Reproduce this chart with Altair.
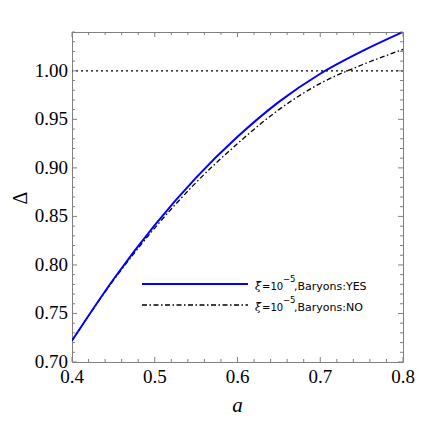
import altair as alt
import pandas as pd

# ---- data ----
a_vals = [0.40, 0.45, 0.50, 0.55, 0.60, 0.65, 0.70, 0.75, 0.80]
delta_yes = [0.722, 0.785, 0.841, 0.890, 0.932, 0.968, 0.997, 1.020, 1.040]
delta_no = [0.722, 0.784, 0.838, 0.885, 0.925, 0.960, 0.987, 1.006, 1.022]
xi_text = "ξ̃"
eq_text = "=10"
sup_text = "−5"
yes_text = ",Baryons:YES"
no_text = ",Baryons:NO"
ref_level = [1.00]
x_title = "a"
y_title = "Δ"

x_major = [0.4, 0.5, 0.6, 0.7, 0.8]
x_labels = ["0.4", "0.5", "0.6", "0.7", "0.8"]
x_minor = [0.42, 0.44, 0.46, 0.48, 0.52, 0.54, 0.56, 0.58,
           0.62, 0.64, 0.66, 0.68, 0.72, 0.74, 0.76, 0.78]
y_major = [0.70, 0.75, 0.80, 0.85, 0.90, 0.95, 1.00]
y_labels = ["0.70", "0.75", "0.80", "0.85", "0.90", "0.95", "1.00"]
y_minor = [0.71, 0.72, 0.73, 0.74, 0.76, 0.77, 0.78, 0.79,
           0.81, 0.82, 0.83, 0.84, 0.86, 0.87, 0.88, 0.89,
           0.91, 0.92, 0.93, 0.94, 0.96, 0.97, 0.98, 0.99,
           1.01, 1.02, 1.03, 1.04]

df = pd.DataFrame({
    "a": a_vals + a_vals,
    "delta": delta_yes + delta_no,
    "series": ["yes"] * len(a_vals) + ["no"] * len(a_vals),
})
one = pd.DataFrame({"k": [0]})  # single row for one-off marks

W, H = 331, 330
FRAME = "#808080"
SERIF = "Liberation Serif"
SANS = "DejaVu Sans"

xs = alt.Scale(domain=[0.4, 0.8], nice=False, zero=False)
ys = alt.Scale(domain=[0.70, 1.04], nice=False, zero=False)

base = alt.Chart(df)

line_no = base.transform_filter(alt.datum.series == "no").mark_line(
    color="black", strokeWidth=1.3, strokeDash=[5, 2.5, 1.5, 2.5], clip=True,
    interpolate="monotone"
).encode(
    x=alt.X("a:Q", scale=xs, axis=None),
    y=alt.Y("delta:Q", scale=ys, axis=None),
)
line_yes = base.transform_filter(alt.datum.series == "yes").mark_line(
    color="#0000ff", strokeWidth=2, clip=True, interpolate="monotone"
).encode(
    x=alt.X("a:Q", scale=xs, axis=None),
    y=alt.Y("delta:Q", scale=ys, axis=None),
)

ref = alt.Chart(pd.DataFrame({"y": ref_level})).mark_rule(
    color="black", strokeWidth=1.3, strokeDash=[2, 3]
).encode(y=alt.Y("y:Q", scale=ys, axis=None))

# frame ticks (inward), on all four sides
def xticks(vals, length):
    d = alt.Chart(pd.DataFrame({"t": vals}))
    bottom = d.mark_rule(color=FRAME, strokeWidth=1).encode(
        x=alt.X("t:Q", scale=xs, axis=None), y=alt.value(H), y2=alt.value(H - length))
    top = d.mark_rule(color=FRAME, strokeWidth=1).encode(
        x=alt.X("t:Q", scale=xs, axis=None), y=alt.value(0), y2=alt.value(length))
    return [bottom, top]

def yticks(vals, length):
    d = alt.Chart(pd.DataFrame({"t": vals}))
    left = d.mark_rule(color=FRAME, strokeWidth=1).encode(
        y=alt.Y("t:Q", scale=ys, axis=None), x=alt.value(0), x2=alt.value(length))
    right = d.mark_rule(color=FRAME, strokeWidth=1).encode(
        y=alt.Y("t:Q", scale=ys, axis=None), x=alt.value(W), x2=alt.value(W - length))
    return [left, right]

tick_layers = xticks(x_major, 5) + xticks(x_minor, 3) + yticks(y_major, 5) + yticks(y_minor, 3)

# tick labels and axis titles as text marks (serif)
xlab = alt.Chart(pd.DataFrame({"t": x_major, "lab": x_labels})).mark_text(
    font=SERIF, fontSize=19, color="black", align="center", baseline="top"
).encode(x=alt.X("t:Q", scale=xs, axis=None), y=alt.value(H + 6), text="lab:N")
ylab = alt.Chart(pd.DataFrame({"t": y_major, "lab": y_labels})).mark_text(
    font=SERIF, fontSize=19, color="black", align="right", baseline="middle"
).encode(y=alt.Y("t:Q", scale=ys, axis=None), x=alt.value(-4), text="lab:N")
xtitle = alt.Chart(one).mark_text(
    text=x_title, font=SERIF, fontSize=21, fontStyle="italic", color="black",
    align="center", baseline="alphabetic"
).encode(x=alt.value(W / 2), y=alt.value(H + 50))
ytitle = alt.Chart(one).mark_text(
    text=y_title, font=SERIF, fontSize=20, color="black", angle=270,
    align="center", baseline="middle"
).encode(x=alt.value(-51), y=alt.value(166))

# custom legend inside the plot
def legend_entry(yc, color, width, dash, tail):
    layers = []
    rule_kw = dict(color=color, strokeWidth=width)
    if dash:
        rule_kw["strokeDash"] = dash
    layers.append(alt.Chart(one).mark_rule(**rule_kw).encode(
        x=alt.value(70), x2=alt.value(176), y=alt.value(yc)))
    layers.append(alt.Chart(one).mark_text(
        text=xi_text, align="left", baseline="alphabetic", font="DejaVu Serif",
        fontStyle="italic", fontSize=11, color="black").encode(
        x=alt.value(183), y=alt.value(yc + 5.5)))
    layers.append(alt.Chart(one).mark_text(
        text=eq_text, align="left", baseline="alphabetic", font=SANS,
        fontSize=10, color="black").encode(
        x=alt.value(190), y=alt.value(yc + 5.5)))
    layers.append(alt.Chart(one).mark_text(
        text=sup_text, align="left", baseline="alphabetic", font=SANS,
        fontSize=8.5, color="black").encode(
        x=alt.value(211), y=alt.value(yc - 2)))
    layers.append(alt.Chart(one).mark_text(
        text=tail, align="left", baseline="alphabetic", font=SANS,
        fontSize=11, color="black").encode(
        x=alt.value(222), y=alt.value(yc + 5.5)))
    return layers

legend_layers = (legend_entry(252, "#0000ff", 2, None, yes_text)
                 + legend_entry(273, "black", 1.3, [5, 2.5, 1.5, 2.5], no_text))

chart = alt.layer(
    line_no, line_yes, ref, *tick_layers, xlab, ylab, xtitle, ytitle, *legend_layers
).properties(
    width=W, height=H,
    padding={"left": 64, "top": 24, "right": 25, "bottom": 60},
    autosize=alt.AutoSizeParams(type="none"),
    background="white",
).configure_view(stroke=FRAME, strokeWidth=1)

chart.save("out.html", embed_options={"renderer": "svg", "actions": False})
